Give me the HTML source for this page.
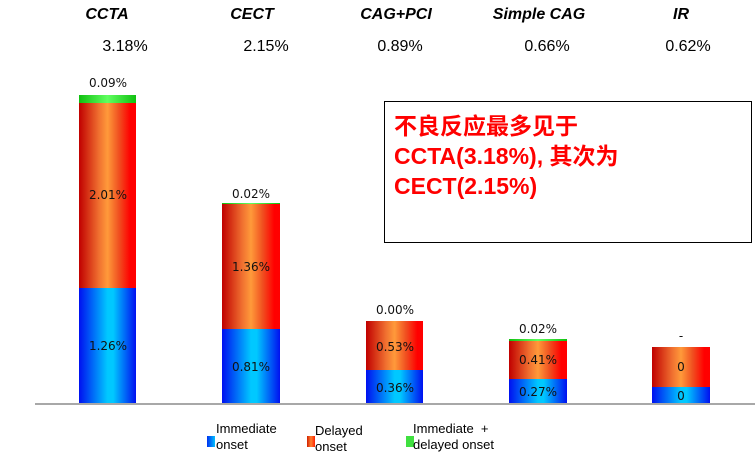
<!DOCTYPE html>
<html><head><meta charset="utf-8"><style>
body{margin:0;width:755px;height:462px;background:#fff;position:relative;overflow:hidden;font-family:"DejaVu Sans","Liberation Sans",sans-serif}
.a{position:absolute}
.b{position:absolute;background:linear-gradient(90deg,#0010f0,#00c8ff 50%,#00c8ff 60%,#0010f0)}
.r{position:absolute;background:linear-gradient(90deg,#c00000,#f07030 35%,#ff9a3a 50%,#f05020 70%,#ff0000 90%,#ff0000)}
.g{position:absolute;background:linear-gradient(90deg,#10c010,#60ff60 50%,#10c010)}
.l{position:absolute;font-size:12px;color:#111;text-align:center;width:80px;margin-left:-11px}
.h{position:absolute;font:italic bold 16px "Liberation Sans",sans-serif;top:6px;text-align:center;width:140px}
.p{position:absolute;font:16px "Liberation Sans",sans-serif;top:38px;text-align:center;width:140px}
.lg{position:absolute;font:13px "Liberation Sans",sans-serif;line-height:16px;color:#000}
</style></head><body>
<div class="h" style="left:37px">CCTA</div><div class="h" style="left:182px">CECT</div><div class="h" style="left:326px">CAG+PCI</div><div class="h" style="left:469px">Simple CAG</div><div class="h" style="left:611px">IR</div>
<div class="p" style="left:55px">3.18%</div><div class="p" style="left:196px">2.15%</div><div class="p" style="left:330px">0.89%</div><div class="p" style="left:477px">0.66%</div><div class="p" style="left:618px">0.62%</div>

<div class="g" style="left:79px;top:95px;width:57px;height:8px"></div>
<div class="r" style="left:79px;top:103px;width:57px;height:185px"></div>
<div class="b" style="left:79px;top:288px;width:57px;height:115px"></div>
<div class="l" style="left:79px;top:76px">0.09%</div><div class="l" style="left:79px;top:188px">2.01%</div><div class="l" style="left:79px;top:339px">1.26%</div>

<div class="g" style="left:222px;top:203px;width:58px;height:1px"></div>
<div class="r" style="left:222px;top:204px;width:58px;height:125px"></div>
<div class="b" style="left:222px;top:329px;width:58px;height:74px"></div>
<div class="l" style="left:222px;top:187px">0.02%</div><div class="l" style="left:222px;top:260px">1.36%</div><div class="l" style="left:222px;top:360px">0.81%</div>

<div class="r" style="left:366px;top:321px;width:57px;height:49px"></div>
<div class="b" style="left:366px;top:370px;width:57px;height:33px"></div>
<div class="l" style="left:366px;top:303px">0.00%</div><div class="l" style="left:366px;top:340px">0.53%</div><div class="l" style="left:366px;top:381px">0.36%</div>

<div class="g" style="left:509px;top:339px;width:58px;height:2px"></div>
<div class="r" style="left:509px;top:341px;width:58px;height:38px"></div>
<div class="b" style="left:509px;top:379px;width:58px;height:24px"></div>
<div class="l" style="left:509px;top:322px">0.02%</div><div class="l" style="left:509px;top:353px">0.41%</div><div class="l" style="left:509px;top:385px">0.27%</div>

<div class="r" style="left:652px;top:347px;width:58px;height:40px"></div>
<div class="b" style="left:652px;top:387px;width:58px;height:16px"></div>
<div class="l" style="left:652px;top:329px">-</div><div class="l" style="left:652px;top:360px">0</div><div class="l" style="left:652px;top:389px">0</div>

<div class="a" style="left:35px;top:403px;width:720px;height:2px;background:#a8a8a8"></div>

<div class="a" style="left:384px;top:101px;width:366px;height:140px;border:1px solid #000"></div>
<div class="a" style="left:394px;top:111px;font:bold 23px/30px 'Liberation Sans','Noto Sans CJK SC',sans-serif;color:#ff0000">不良反应最多见于<br>CCTA(3.18%), 其次为<br>CECT(2.15%)</div>

<div class="a" style="left:207px;top:436px;width:8px;height:11px;background:linear-gradient(90deg,#0030f0,#00c0ff)"></div>
<div class="lg" style="left:216px;top:421px">Immediate<br>onset</div>
<div class="a" style="left:307px;top:436px;width:8px;height:11px;background:linear-gradient(90deg,#d02000,#ff8030,#ff2000)"></div>
<div class="lg" style="left:315px;top:423px">Delayed<br>onset</div>
<div class="a" style="left:406px;top:436px;width:8px;height:11px;background:#40e040"></div>
<div class="lg" style="left:413px;top:421px">Immediate &nbsp;+<br>delayed onset</div>
</body></html>
